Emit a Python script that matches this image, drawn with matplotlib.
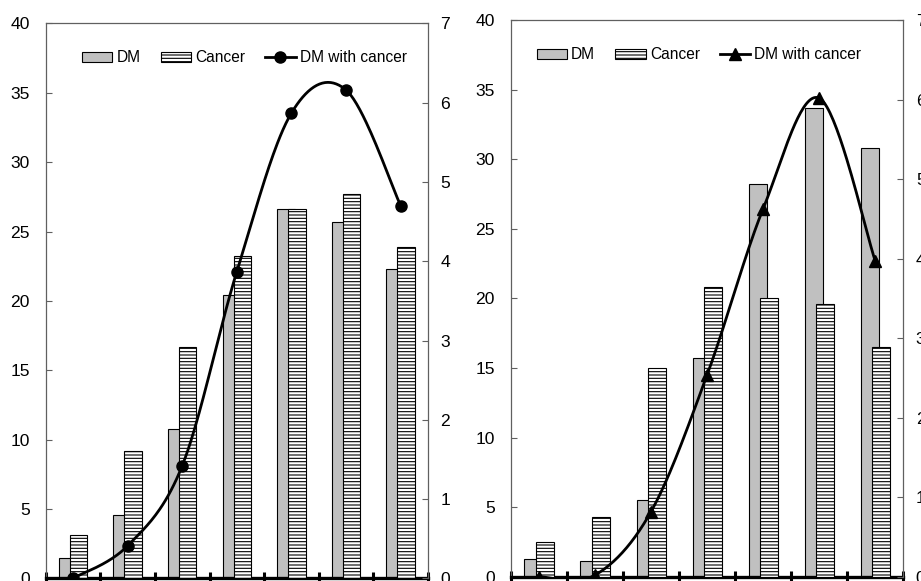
import numpy as np
import matplotlib.pyplot as plt
from matplotlib.lines import Line2D
from matplotlib.patches import Patch

plt.rcParams['font.family'] = ['Liberation Sans', 'DejaVu Sans']
plt.rcParams['font.size'] = 11.2
plt.rcParams['hatch.linewidth'] = 0.8

# Data
groups = np.arange(7)
dm_left = [1.5, 4.6, 10.8, 20.4, 26.6, 25.7, 22.3]
cancer_left = [3.1, 9.2, 16.7, 23.2, 26.6, 27.7, 23.9]
both_left = [0.0, 0.41, 1.42, 3.87, 5.87, 6.16, 4.70]

dm_right = [1.3, 1.1, 5.5, 15.7, 28.2, 33.7, 30.8]
cancer_right = [2.5, 4.3, 15.0, 20.8, 20.0, 19.6, 16.5]
both_right = [0.0, 0.02, 0.82, 2.54, 4.63, 6.02, 3.97]

legend_labels = ["DM", "Cancer", "DM with cancer"]
spine_col = "#606060"


def smooth(x, y, n=40):
    # Excel-like smoothed line: cubic Bezier between points (Catmull-Rom)
    x = np.asarray(x, float)
    y = np.asarray(y, float)
    px = np.concatenate([[x[0]], x, [x[-1]]])
    py = np.concatenate([[y[0]], y, [y[-1]]])
    t = np.linspace(0, 1, n)[:, None]
    out = []
    for i in range(1, len(x)):
        p0 = np.array([px[i - 1], py[i - 1]])
        p1 = np.array([px[i], py[i]])
        p2 = np.array([px[i + 1], py[i + 1]])
        p3 = np.array([px[i + 2], py[i + 2]])
        c1 = p1 + (p2 - p0) / 6
        c2 = p2 - (p3 - p1) / 6
        seg = ((1 - t) ** 3 * p1 + 3 * (1 - t) ** 2 * t * c1
               + 3 * (1 - t) * t ** 2 * c2 + t ** 3 * p2)
        out.append(seg)
    out = np.vstack(out)
    return out[:, 0], out[:, 1]


def panel(rect, dm, cancer, both, marker, msize, leg_xy, lpad, rpad):
    ax = fig.add_axes(rect)
    ax.bar(groups - 0.1, dm, width=0.32, color="#C0C0C0", edgecolor="black",
           linewidth=0.8, zorder=2)
    ax.bar(groups + 0.1, cancer, width=0.32, color="white", edgecolor="black",
           hatch="-----", linewidth=0.8, zorder=3)
    ax.set_xlim(-0.5, 6.5)
    ax.set_ylim(0, 40)
    ax.set_yticks(range(0, 41, 5))
    ax.set_xticks(np.arange(-0.5, 7, 1))
    ax.tick_params(axis="x", direction="inout", length=8, width=2.2,
                   labelbottom=False, color="black")
    ax.tick_params(axis="y", direction="in", length=4, width=0.8,
                   pad=lpad, color=spine_col, labelsize=12.6)
    ax.spines["bottom"].set_linewidth(2.4)
    ax.spines["bottom"].set_color("black")
    for s in ("top", "left"):
        ax.spines[s].set_color(spine_col)
        ax.spines[s].set_linewidth(0.9)
    ax.spines["right"].set_visible(False)

    ax2 = ax.twinx()
    sx, sy = smooth(groups, both)
    ax2.plot(sx, sy, color="black", lw=2.0, zorder=4)
    ax2.plot(groups, both, linestyle="none", marker=marker, ms=msize,
             color="black", zorder=5)
    ax2.set_ylim(0, 7)
    ax2.set_yticks(range(0, 8))
    ax2.tick_params(axis="y", direction="in", length=4, width=0.8,
                    pad=rpad, color=spine_col, labelsize=12.6)
    for s in ("top", "left", "bottom"):
        ax2.spines[s].set_visible(False)
    ax2.spines["right"].set_color(spine_col)
    ax2.spines["right"].set_linewidth(0.9)

    handles = [
        Patch(facecolor="#C0C0C0", edgecolor="black", linewidth=0.8),
        Patch(facecolor="white", edgecolor="black", hatch="-----", linewidth=0.8),
        Line2D([], [], color="black", lw=2.0, marker=marker, ms=msize),
    ]
    ax2.legend(handles, legend_labels, loc="center left", bbox_to_anchor=leg_xy,
               ncol=3, frameon=False, borderaxespad=0, borderpad=0,
               handlelength=1.95, handleheight=0.62, handletextpad=0.26,
               columnspacing=1.3, numpoints=1)
    return ax, ax2


fig = plt.figure(figsize=(9.21, 5.81), dpi=100)

panel([0.0496, 0.0046, 0.4151, 0.9551], dm_left, cancer_left, both_left,
      "o", 8, (0.095, 0.9377), 11.5, 9)
panel([0.5548, 0.0074, 0.4260, 0.9578], dm_right, cancer_right, both_right,
      "^", 9, (0.066, 0.9375), 11.5, 9)

fig.savefig("out.png", dpi=100)
